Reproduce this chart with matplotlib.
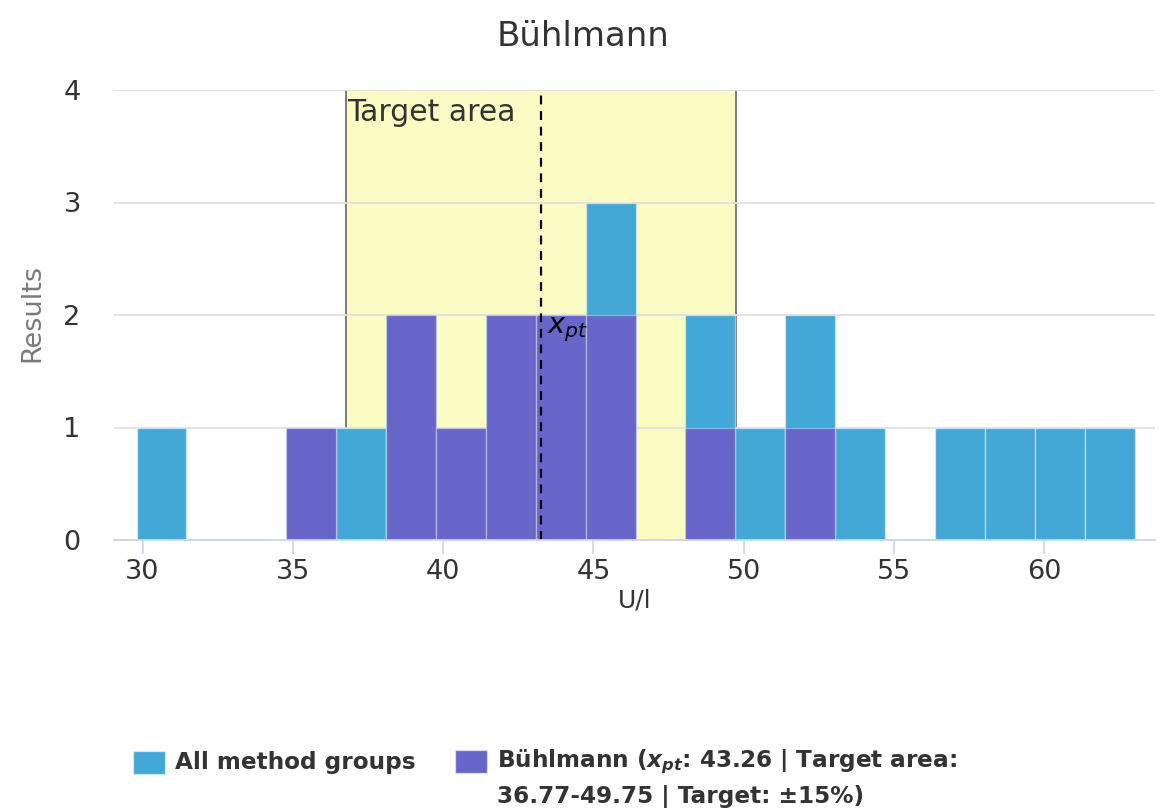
import matplotlib
matplotlib.use("Agg")
import matplotlib.pyplot as plt
from matplotlib.patches import Rectangle

# ---- data ----
bin_edges = [29.8, 31.46, 33.12, 34.78, 36.44, 38.1, 39.76, 41.42, 43.08, 44.74,
             46.4, 48.06, 49.72, 51.38, 53.04, 54.7, 56.36, 58.02, 59.68, 61.34, 63.0]
all_counts = [1, 0, 0, 1, 1, 2, 1, 2, 2, 3, 0, 2, 1, 2, 1, 0, 1, 1, 1, 1]
buhl_counts = [0, 0, 0, 1, 0, 2, 1, 2, 2, 2, 0, 1, 0, 1, 0, 0, 0, 0, 0, 0]
x_pt = 43.26
target_low, target_high = 36.77, 49.75
x_ticks = [30, 35, 40, 45, 50, 55, 60]
y_ticks = [0, 1, 2, 3, 4]
title = "Bühlmann"
label_all = "All method groups"
label_buhl_1 = r"Bühlmann ($\mathbfit{x}_{\mathbfit{pt}}$: 43.26 | Target area:"
label_buhl_2 = "36.77-49.75 | Target: ±15%)"

CYAN = "#43a8d5"
PURPLE = "#6866c9"
YELLOW = "#fafcc4"
TXT = "#333333"
AXIS = "#ccd6eb"

plt.rcParams['font.family'] = ['DejaVu Sans']
plt.rcParams['mathtext.fontset'] = 'dejavusans'

W, H = 1167, 810
fig = plt.figure(figsize=(W / 100, H / 100), dpi=100)
fig.patch.set_facecolor("white")
ax = fig.add_axes([114 / W, 1 - 540 / H, (1155 - 114) / W, (540 - 90) / H])

lefts = bin_edges[:-1]
widths = [b - a for a, b in zip(bin_edges[:-1], bin_edges[1:])]

# target area
ax.axvspan(target_low, target_high, facecolor=YELLOW, edgecolor="none", zorder=0)
ax.axvline(target_low, color="#666666", lw=1.2, zorder=0.5)
ax.axvline(target_high, color="#666666", lw=1.2, zorder=0.5)

# grid
for yv in y_ticks[1:]:
    ax.axhline(yv, color="#e0e0e0", lw=1.3, zorder=1)

ax.bar(lefts, all_counts, width=widths, align="edge", color=CYAN,
       edgecolor=(1, 1, 1, 0.45), linewidth=1.0, zorder=2)
ax.bar(lefts, buhl_counts, width=widths, align="edge", color=PURPLE,
       edgecolor=(1, 1, 1, 0.35), linewidth=1.0, zorder=3)

ax.plot([x_pt, x_pt], [0, 4], color="black", lw=1.6, ls=(0, (4, 3)), zorder=4)
ax.text(x_pt + 0.2, 2.0, r"$x_{pt}$", fontsize=21, color="black",
        ha="left", va="top", zorder=5)
ax.text(target_low + 0.03, 3.93, "Target area", fontsize=21.5, color=TXT,
        ha="left", va="top", zorder=5)

ax.set_xlim(29.05, 63.68)
ax.set_ylim(0, 4)
ax.set_xticks(x_ticks)
ax.set_yticks(y_ticks)
ax.tick_params(axis="x", colors=AXIS, length=10, width=1.2, labelcolor=TXT,
               labelsize=19.5, pad=4)
ax.tick_params(axis="y", length=0, labelcolor=TXT, labelsize=19.5, pad=24)
for s in ["top", "right", "left"]:
    ax.spines[s].set_visible(False)
ax.spines["bottom"].set_color(AXIS)
ax.spines["bottom"].set_linewidth(1.3)
ax.spines["bottom"].set_zorder(6)

ax.set_xlabel("U/l", fontsize=18, color=TXT, labelpad=2)
ax.set_ylabel("Results", fontsize=19.5, color="#7a7a7a")
ax.yaxis.set_label_coords((45 - 114) / (1155 - 114), (540 - 313) / (540 - 90))
fig.text(0.5, 1 - 36 / H, title, fontsize=24.5, color=TXT,
         ha="center", va="center")

# legend
def sq(x0, y0, color):
    fig.patches.append(Rectangle((x0 / W, 1 - (y0 + 23) / H), 32 / W, 23 / H,
                                 transform=fig.transFigure, facecolor=color,
                                 edgecolor=(1, 1, 1, 0.5), lw=1))

sq(133, 751, CYAN)
sq(455, 750, PURPLE)
fs_leg = 16.7
fig.text(175 / W, 1 - 762 / H, label_all, fontsize=fs_leg, fontweight="bold",
         color=TXT, ha="left", va="center")
fig.text(497 / W, 1 - 762 / H, label_buhl_1, fontsize=fs_leg, fontweight="bold",
         color=TXT, ha="left", va="center")
fig.text(497 / W, 1 - 797 / H, label_buhl_2, fontsize=fs_leg, fontweight="bold",
         color=TXT, ha="left", va="center")

fig.savefig("out.png", dpi=100)
